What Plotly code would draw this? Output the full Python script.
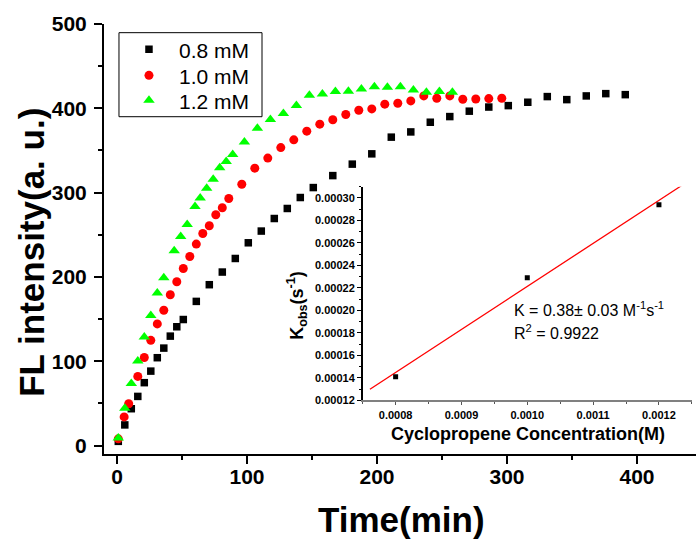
import numpy as np
import plotly.graph_objects as go

# ---- main data: FL intensity vs time ----
t_08 = [1, 6, 11, 16, 21, 26, 31, 36, 41, 46, 51, 61, 71, 81, 91, 101, 111, 121, 131, 141, 151,
        166, 181, 196, 211, 226, 241, 256, 271, 286, 301, 316, 331, 346, 361, 376, 391]
fl_08 = [5, 24.5, 43.7, 58.3, 74.6, 88.3, 104.2, 115.6, 129.8, 140.9, 149.5, 171, 190.8, 205.8,
         221.9, 240.5, 254.4, 269.3, 281.2, 294.2, 306, 320.2, 333.8, 346, 365.8, 372, 383.5,
         390.2, 396.6, 401.5, 403.2, 407.2, 413.9, 410.3, 414.7, 417.4, 416.2]

t_10 = [1, 5.5, 9, 16, 21, 26, 31, 36, 41, 46, 51, 56, 61, 66, 71, 76, 81, 86, 96, 106, 116, 126,
        136, 146, 156, 166, 176, 186, 196, 206, 216, 226, 236, 246, 256, 266, 276, 286, 296]
fl_10 = [8, 34, 49.6, 82, 104.5, 124.8, 144.3, 160.5, 178.9, 194.3, 210, 224.3, 239, 251.5, 260.7,
         273.7, 282, 293, 310, 329, 341, 353.4, 362.6, 372.9, 381.2, 386.5, 392.6, 397.7, 399.3,
         404.9, 406, 408.8, 414.7, 412, 414.7, 410.8, 411.1, 411.5, 412]

t_12 = [1, 6, 11, 16, 21, 26, 31, 36, 44, 49, 54, 60, 64, 69, 74, 79, 84, 89, 98, 108, 118, 128,
        138, 148, 158, 168, 178, 188, 198, 208, 218, 228, 238, 248, 258]
fl_12 = [9, 44.2, 73.5, 100.3, 128.8, 154.4, 180.9, 199, 231.2, 248, 262.2, 283.5, 293.5, 305.3,
         316, 329.5, 337, 345.2, 360, 376.4, 386.6, 393.8, 403.4, 415.4, 417, 419.8, 420.3, 423,
         425.7, 425, 425.7, 421.8, 419.1, 419.8, 419.1]

series_names = ["0.8 mM", "1.0 mM", "1.2 mM"]

# ---- inset data: k_obs vs concentration ----
conc = [0.0008, 0.0010, 0.0012]
kobs = [0.000141, 0.000229, 0.000294]
fit_span = [0.000761, 0.001234]

slope, intercept = np.polyfit(conc, kobs, 1)
fit_x = np.array(fit_span)
fit_y = slope * fit_x + intercept

FONT = "Arial, Liberation Sans, sans-serif"

fig = go.Figure()
fig.add_trace(go.Scatter(x=t_08, y=fl_08, mode="markers", name=series_names[0], legend="legend",
                         marker=dict(symbol="square", size=7.5, color="black")))
fig.add_trace(go.Scatter(x=t_10, y=fl_10, mode="markers", name=series_names[1], legend="legend2",
                         marker=dict(symbol="circle", size=9, color="red")))
fig.add_trace(go.Scatter(x=t_12, y=fl_12, mode="markers", name=series_names[2], legend="legend3",
                         marker=dict(symbol="triangle-up", size=10, color="#00ff00")))

fig.add_trace(go.Scatter(x=fit_x, y=fit_y, mode="lines", line=dict(color="red", width=1.3),
                         xaxis="x2", yaxis="y2", showlegend=False))
fig.add_trace(go.Scatter(x=conc, y=kobs, mode="markers", xaxis="x2", yaxis="y2",
                         marker=dict(symbol="square", size=5, color="black"), showlegend=False))

axis_common = dict(showline=True, linecolor="black", linewidth=2, showgrid=False, zeroline=False,
                   ticks="outside", tickcolor="black", tickwidth=2, ticklen=8,
                   tickfont=dict(family=FONT, size=21, color="black", weight="bold"))

leg_common = dict(x=0.0253, xanchor="left", yanchor="middle", borderwidth=0,
                  bgcolor="rgba(0,0,0,0)", itemwidth=50,
                  font=dict(family=FONT, size=21, color="black"))

fig.update_layout(
    width=696, height=540,
    margin=dict(l=104, r=0, t=24, b=86),
    plot_bgcolor="white", paper_bgcolor="white",
    xaxis=dict(domain=[0, 1], range=[-10, 445.4], tick0=0, dtick=100, ticklabelstandoff=-5,
               minor=dict(ticks="outside", dtick=50, ticklen=4, tickcolor="black", tickwidth=2),
               **axis_common),
    yaxis=dict(domain=[0, 1], range=[-10, 500], tick0=0, dtick=100, ticklabelstandoff=3,
               minor=dict(ticks="outside", dtick=50, ticklen=4, tickcolor="black", tickwidth=2),
               **axis_common),
    xaxis2=dict(domain=[0.437, 0.993], anchor="y2", range=[0.00075, 0.00125],
                tick0=0.0008, dtick=0.0001, tickformat=".4f",
                showline=True, linecolor="#808080", linewidth=2, showgrid=False, zeroline=False,
                ticks="outside", ticklen=3, tickwidth=1, tickcolor="#555",
                minor=dict(ticks="outside", dtick=0.00005, ticklen=2, tickcolor="#555"),
                tickfont=dict(family=FONT, size=11, color="black", weight="bold")),
    yaxis2=dict(domain=[0.1247, 0.6216], anchor="x2", range=[0.00012, 0.00031],
                tick0=0.00012, dtick=0.00002, tickformat=".5f",
                showline=True, linecolor="black", linewidth=1.5, showgrid=False, zeroline=False,
                ticks="outside", ticklen=4, tickwidth=1, tickcolor="black",
                minor=dict(ticks="outside", dtick=0.00001, ticklen=2, tickcolor="black"),
                tickfont=dict(family=FONT, size=11, color="black", weight="bold")),
    legend=dict(y=0.9402, **leg_common),
    legend2=dict(y=0.8798, **leg_common),
    legend3=dict(y=0.8216, **leg_common),
    showlegend=True,
)

# legend frame
fig.add_shape(type="rect", xref="paper", yref="paper", x0=0.0253, x1=0.2669, y0=0.7844, y1=0.9798,
              line=dict(color="black", width=1), fillcolor="white", layer="below")

annos = [
    dict(text="FL intensity(a. u.)", x=-0.1216, y=0.468, textangle=-90,
         font=dict(family=FONT, size=35, color="black", weight="bold")),
    dict(text="Time(min)", x=0.503, y=-0.153,
         font=dict(family=FONT, size=35, color="black", weight="bold")),
    dict(text="K<sub>obs</sub>(s<sup>-1</sup>)", x=0.326, y=0.347, textangle=-90,
         font=dict(family=FONT, size=18, color="black", weight="bold")),
    dict(text="Cyclopropene Concentration(M)", x=0.7157, y=0.0472,
         font=dict(family=FONT, size=18, color="black", weight="bold")),
    dict(text="K = 0.38± 0.03 M<sup>-1</sup>s<sup>-1</sup>", x=0.689, y=0.338, xanchor="left",
         font=dict(family=FONT, size=16, color="black")),
    dict(text="R<sup>2</sup> = 0.9922", x=0.689, y=0.2826, xanchor="left",
         font=dict(family=FONT, size=16, color="black")),
]
for a in annos:
    a.setdefault("xanchor", "center")
    fig.add_annotation(xref="paper", yref="paper", yanchor="middle", showarrow=False, **a)

fig.write_html("out.html", config={"displayModeBar": False},
               post_script="document.body.style.margin='0px';")
